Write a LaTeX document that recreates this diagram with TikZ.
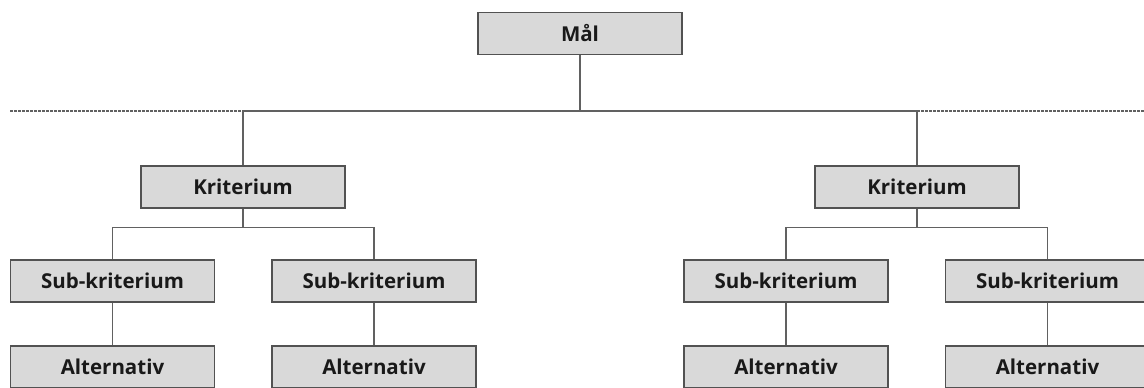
\documentclass[tikz,border=0pt]{standalone}
\usepackage{fontspec}
\setmainfont{Open Sans}
\tikzset{
  box/.style={draw=black!68, line width=1.3pt, fill=black!15, minimum width=204pt, minimum height=42pt, inner sep=0pt, font=\bfseries\fontsize{20.5}{24}\selectfont, text=black!90},
  conn/.style={draw=black!62, line width=1.4pt},
  dashline/.style={draw=black!62, line width=1.2pt, dash pattern=on 2.5pt off 1.5pt}
}
\begin{document}
\begin{tikzpicture}[x=1pt,y=-1pt]
\useasboundingbox (0,0) rectangle (1144,388);
\node[box] (mal) at (580,33.5) {Mål};
\node[box] (k1) at (243,187) {Kriterium};
\node[box] (k2) at (917,187) {Kriterium};
\node[box] (s1) at (112.5,281) {Sub-kriterium};
\node[box] (s2) at (374,281) {Sub-kriterium};
\node[box] (s3) at (786,281) {Sub-kriterium};
\node[box] (s4) at (1047.5,281) {Sub-kriterium};
\node[box] (a1) at (112.5,367) {Alternativ};
\node[box] (a2) at (374,367) {Alternativ};
\node[box] (a3) at (786,367) {Alternativ};
\node[box] (a4) at (1047.5,367) {Alternativ};
\coordinate (hl) at (10,111);
\coordinate (hr) at (1144,111);
\coordinate (h1) at (243,111);
\coordinate (h2) at (917,111);
\coordinate (m) at (580,111);
\draw[dashline] (hl) -- (h1);
\draw[dashline] (h2) -- (hr);
\draw[conn] (h1) -- (h2);
\draw[conn] (mal.south) -- (m);
\draw[conn] (h1) -- (k1.north);
\draw[conn] (h2) -- (k2.north);
\draw[conn] (k1.south) -- ++(0,19) -| (s1.north);
\draw[conn] (k1.south) ++(0,19) -| (s2.north);
\draw[conn] (k2.south) -- ++(0,19) -| (s3.north);
\draw[conn] (k2.south) ++(0,19) -| (s4.north);
\draw[conn] (s1) -- (a1);
\draw[conn] (s2) -- (a2);
\draw[conn] (s3) -- (a3);
\draw[conn] (s4) -- (a4);
\end{tikzpicture}
\end{document}
